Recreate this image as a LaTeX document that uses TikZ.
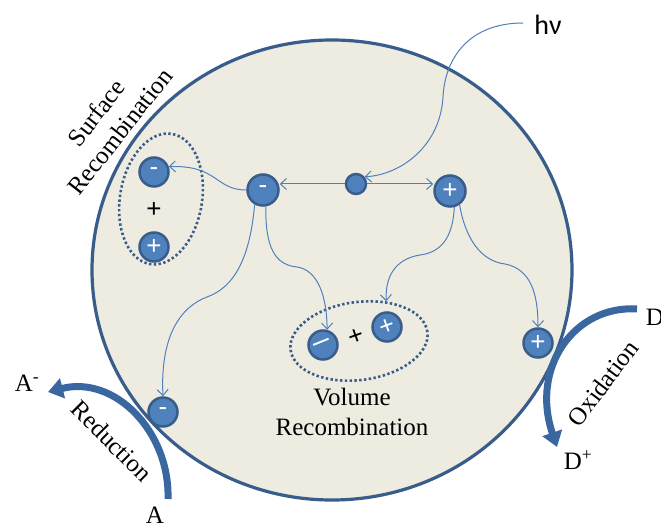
\documentclass[tikz,border=0pt]{standalone}
\usepackage{graphicx}
\usepackage{fontspec}
\setmainfont{Liberation Serif}
\newfontfamily\signfont{Liberation Sans}
\newfontfamily\hfont{Carlito}
\usetikzlibrary{arrows.meta,shapes.geometric}
\definecolor{bgbeige}{HTML}{EEECE1}
\definecolor{ringblue}{HTML}{385D8A}
\definecolor{pfill}{HTML}{4F81BD}
\definecolor{pborder}{HTML}{385D8A}
\definecolor{lineblue}{HTML}{4F81BD}
\definecolor{arrowblue}{HTML}{3A67A0}
\begin{document}
\begin{tikzpicture}[x=1pt,y=1pt,
  particle/.style={circle, fill=pfill, draw=pborder, line width=2.5pt, minimum size=29pt, inner sep=0pt, text=white, font=\signfont\fontsize{26}{26}\selectfont},
  bigparticle/.style={particle, minimum size=31pt},
  conn/.style={draw=lineblue, line width=1pt, -{Straight Barb[length=6pt,width=11pt]}},
  dottedring/.style={ellipse, draw=pborder, line width=2.6pt, dash pattern=on 2.4pt off 2.4pt, inner sep=0pt},
  thickarrow/.style={draw=arrowblue, line width=7pt, -{Triangle[length=15pt,width=20pt]}},
  txt/.style={font=\fontsize{25}{30}\selectfont, align=center, inner sep=0pt},
  blacksign/.style={font=\signfont\fontsize{26}{26}\selectfont, inner sep=0pt}
]
\useasboundingbox (0,0) rectangle (661,527);
\fill[white] (0,0) rectangle (661,527);

% big grain
\draw[fill=bgbeige, draw=ringblue, line width=3.2pt] (332,257) ellipse [x radius=240, y radius=230];

% recombination rings
\node[dottedring, minimum width=82pt, minimum height=132pt, rotate=-9.5] (sur) at (161,328) {};
\node[dottedring, minimum width=138pt, minimum height=78pt, rotate=7.5] (vol) at (359,186) {};

% particles
\node[particle] (sm) at (154,355) {-};
\node[particle] (sp) at (154,280) {+};
\node[blacksign] (splus) at (154,317) {+};
\node[bigparticle] (cm) at (263,337) {-};
\node[circle, fill=pfill, draw=pborder, line width=2.5pt, minimum size=20pt, inner sep=0pt] (dot) at (356,343) {};
\node[bigparticle] (cp) at (450,336) {+};
\node[particle, font=\signfont\fontsize{30}{30}\selectfont] (vm) at (323,182) {\rotatebox{22}{–}};
\node[particle] (vp) at (387,200) {\rotatebox{20}{+}};
\node[blacksign] (vplus) at (356,190) {\rotatebox{20}{+}};
\node[particle] (rp) at (538,184) {+};
\node[particle] (bm) at (163,115) {-};

% labels
\node[font=\hfont\fontsize{28}{28}\selectfont, inner sep=0pt] (hv) at (548,502) {hν};
\coordinate (hvs) at (523,504);
\node[txt, rotate=52] (surlab) at (108,405) {Surface\\Recombination};
\node[txt] (vollab) at (352,115) {Volume\\Recombination};
\node[txt, rotate=-45] (redlab) at (112,86) {Reduction};
\node[txt, rotate=53] (oxlab) at (603,144) {Oxidation};
\node[txt] (am) at (27,144) {A\textsuperscript{-}};
\node[txt] (a) at (155,12) {A};
\node[txt] (d) at (655,210) {D};
\node[txt] (dp) at (578,67) {D\textsuperscript{+}};

% thin connectors
\draw[conn] (hvs) .. controls (470,504) and (445,470) .. (443,430) .. controls (440,380) and (400,352) .. (dot.40);
\draw[conn] (dot.west) -- (dot.west -| cm.east);
\draw[conn] (dot.east) -- (dot.east -| cp.west);
\draw[conn] (cm.west) .. controls (215,337) and (218,362) .. (sm.20);
\draw[conn] (cm.240) .. controls (250,270) and (235,240) .. (207,230) .. controls (180,220) and (160,190) .. (bm.north);
\draw[conn] (cm.280) .. controls (265,280) and (275,262) .. (297,260) .. controls (318,257) and (327,230) .. (vm.75);
\draw[conn] (cp.285) .. controls (453,295) and (445,275) .. (420,272) .. controls (395,268) and (385,250) .. (vol.48);
\draw[conn] (cp.305) .. controls (465,290) and (480,266) .. (505,263) .. controls (530,258) and (538,235) .. (rp.north);

% thick reaction arrows
\coordinate (redS) at (168,28);
\coordinate (redE) at (48,135);
\draw[thickarrow] (redS) .. controls (170,95) and (115,152) .. (redE);
\coordinate (oxS) at (637,218);
\coordinate (oxE) at (557,80);
\draw[thickarrow] (oxS) .. controls (575,222) and (530,160) .. (oxE);
\end{tikzpicture}
\end{document}
